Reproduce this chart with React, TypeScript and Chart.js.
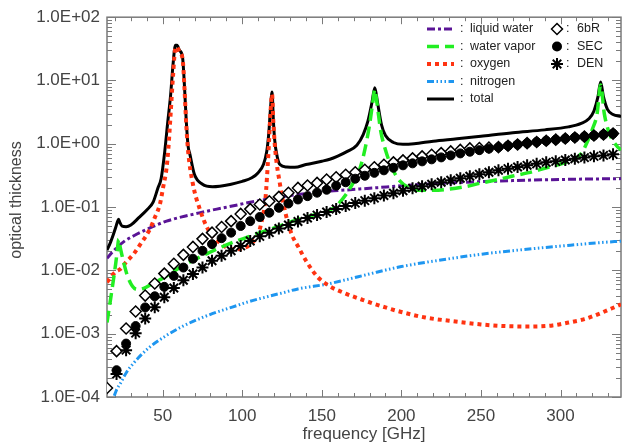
import React, { useEffect, useRef } from "react";
import { Chart, registerables } from "chart.js";

Chart.register(...registerables);

const FONT = '"Liberation Sans", Arial, Helvetica, sans-serif';
const AXIS_COLOR = "#7a7a7a";
const LABEL_COLOR = "#444444";

const xTickValues = [50, 100, 150, 200, 250, 300];
const yTickValues = [1e-4, 1e-3, 1e-2, 1e-1, 1, 10, 100];

const totalFreq = [15, 17, 19, 20.5, 21.5, 22.3, 23, 24.5, 27, 30, 35, 40, 44, 47, 49, 51.3, 53, 55, 56.5, 58, 59, 60.5, 62.5, 63.7, 64.8, 66, 67, 69.9, 75, 81.3, 93, 100, 106, 110, 113.3, 115.4, 116.7, 117.7, 118.75, 119.5, 120.3, 122, 123.7, 128, 133, 140, 150, 155, 160, 166, 172, 176, 179, 181.5, 183.3, 185, 187.5, 190, 195, 201, 208, 220, 235, 250, 270, 290, 305, 313, 318, 321, 323.5, 325.2, 327, 329.5, 333, 338];
const totalVals = [0.021, 0.027, 0.037, 0.048, 0.058, 0.064, 0.058, 0.05, 0.049, 0.052, 0.068, 0.09, 0.12, 0.2, 0.28, 0.76, 2.0, 6.0, 18, 36, 36, 30, 23, 8, 2.3, 0.9, 0.7, 0.33, 0.23, 0.21, 0.23, 0.255, 0.29, 0.35, 0.47, 0.76, 1.5, 3.5, 6.6, 2.5, 1.2, 0.62, 0.47, 0.43, 0.425, 0.47, 0.53, 0.57, 0.64, 0.76, 0.95, 1.4, 2.3, 4.5, 7.7, 4.5, 2.0, 1.35, 1.05, 0.98, 1.0, 1.1, 1.2, 1.32, 1.5, 1.66, 1.85, 2.1, 2.5, 3.3, 5.5, 9.5, 5.5, 3.5, 2.9, 2.7];

const oxygenFreq = [15, 18, 21, 23.4, 27, 31.6, 36, 42, 45, 48.2, 50.5, 52.4, 53.5, 55, 56.5, 58, 59, 60.5, 62.5, 63.7, 64.8, 66, 69, 73, 79, 86, 94, 101, 106, 110, 112.5, 114.5, 116.5, 117.7, 118.75, 119.5, 120.8, 123.7, 126, 128.8, 131.5, 135, 141, 147.5, 154, 165, 176, 190, 200, 215, 230, 250, 265, 280, 295, 305, 315, 325, 332, 338];
const oxygenVals = [0.0065, 0.0082, 0.0097, 0.0105, 0.0135, 0.018, 0.026, 0.045, 0.068, 0.11, 0.22, 0.41, 0.8, 3.0, 12, 33, 34, 28, 22, 7.4, 2.0, 0.75, 0.23, 0.098, 0.042, 0.027, 0.0215, 0.0225, 0.027, 0.037, 0.065, 0.13, 0.76, 3.0, 6.0, 2.3, 0.76, 0.23, 0.11, 0.055, 0.035, 0.024, 0.013, 0.0078, 0.0058, 0.0043, 0.0034, 0.0026, 0.0022, 0.0018, 0.0016, 0.0014, 0.00132, 0.0013, 0.00135, 0.0015, 0.0017, 0.0021, 0.0025, 0.0029];

const vaporFreq = [15, 17, 19, 20.5, 21.5, 22.3, 23, 24.5, 27.5, 31, 34, 38, 44, 50, 62.5, 79, 93.6, 104, 114.5, 125, 135, 145, 153.7, 160, 166, 170, 174, 177, 180, 182, 183.3, 184.6, 187, 190, 194, 199, 205, 210, 220, 228, 240, 250, 260, 270, 280, 290, 300, 308, 313, 317, 320, 323, 325.2, 327.5, 331, 335, 338];
const vaporVals = [0.0015, 0.0032, 0.007, 0.013, 0.021, 0.031, 0.025, 0.017, 0.0087, 0.0056, 0.005, 0.0052, 0.0063, 0.0075, 0.0118, 0.019, 0.0275, 0.034, 0.042, 0.052, 0.064, 0.075, 0.086, 0.11, 0.17, 0.25, 0.41, 0.8, 2.0, 4.5, 7.2, 4.5, 1.6, 0.8, 0.42, 0.26, 0.2, 0.185, 0.185, 0.19, 0.21, 0.24, 0.27, 0.31, 0.35, 0.41, 0.48, 0.56, 0.7, 1.1, 1.7, 3.0, 8.5, 3.0, 1.4, 0.95, 0.8];

const liquidFreq = [15, 18, 21.3, 26, 31.6, 42, 52.4, 62, 73, 84, 93.7, 104, 114.4, 125, 135, 153.7, 166, 185, 200, 228, 250, 270, 290, 310, 338];
const liquidVals = [0.0155, 0.019, 0.023, 0.029, 0.035, 0.047, 0.06, 0.07, 0.081, 0.093, 0.104, 0.118, 0.132, 0.146, 0.158, 0.178, 0.187, 0.203, 0.217, 0.24, 0.252, 0.262, 0.27, 0.276, 0.282];

const nitrogenFreq = [15, 17, 19.3, 21, 23.4, 27, 31.6, 36, 42, 52.4, 62, 73, 83, 93.7, 104, 114.4, 125, 135, 153.7, 166, 180, 200, 228, 250, 270, 290, 310, 325, 338];
const nitrogenVals = [0.00005, 0.00007, 0.0001, 0.00013, 0.000164, 0.00024, 0.00034, 0.00045, 0.00062, 0.00094, 0.00129, 0.00172, 0.00215, 0.00263, 0.0032, 0.00377, 0.0044, 0.0051, 0.0061, 0.0072, 0.0088, 0.0115, 0.015, 0.018, 0.0205, 0.023, 0.0255, 0.0275, 0.029];

const markerFreq = [15, 21, 27, 33, 39, 45, 51, 57, 63, 69, 75, 81, 87, 93, 99, 105, 111, 117, 123, 129, 135, 141, 147, 153, 159, 165, 171, 177, 183, 189, 195, 201, 207, 213, 219, 225, 231, 237, 243, 249, 255, 261, 267, 273, 279, 285, 291, 297, 303, 309, 315, 321, 327, 333];
const sixbrVals = [1.39e-4, 5.3e-4, 1.21e-3, 2.24e-3, 4.0e-3, 6.2e-3, 8.9e-3, 0.0127, 0.0176, 0.0235, 0.0315, 0.0395, 0.0485, 0.060, 0.078, 0.093, 0.110, 0.124, 0.145, 0.168, 0.201, 0.219, 0.241, 0.272, 0.296, 0.324, 0.355, 0.388, 0.425, 0.466, 0.509, 0.547, 0.589, 0.633, 0.673, 0.713, 0.758, 0.80, 0.845, 0.86, 0.875, 0.885, 0.931, 0.977, 1.024, 1.07, 1.116, 1.162, 1.21, 1.26, 1.30, 1.35, 1.40, 1.45];
const secVals = [null, 2.65e-4, 6.98e-4, 1.32e-3, 2.6e-3, 3.9e-3, 5.5e-3, 8.2e-3, 0.0111, 0.0153, 0.0204, 0.026, 0.0323, 0.0395, 0.0503, 0.060, 0.0697, 0.0815, 0.0976, 0.114, 0.132, 0.149, 0.169, 0.188, 0.218, 0.247, 0.281, 0.313, 0.348, 0.381, 0.418, 0.457, 0.491, 0.528, 0.568, 0.61, 0.656, 0.705, 0.75, 0.794, 0.839, 0.885, 0.931, 0.977, 1.024, 1.07, 1.116, 1.162, 1.21, 1.26, 1.30, 1.35, 1.40, 1.45];
const denVals = [null, 2.3e-4, 5.5e-4, 1.02e-3, 1.74e-3, 2.62e-3, 3.77e-3, 5.28e-3, 7.0e-3, 8.77e-3, 0.0111, 0.0142, 0.017, 0.0204, 0.0244, 0.0292, 0.0345, 0.0395, 0.0460, 0.0521, 0.0592, 0.0671, 0.0748, 0.0835, 0.0931, 0.1037, 0.1156, 0.1265, 0.1385, 0.152, 0.166, 0.1817, 0.199, 0.214, 0.230, 0.247, 0.266, 0.285, 0.307, 0.330, 0.355, 0.381, 0.405, 0.430, 0.457, 0.482, 0.509, 0.528, 0.554, 0.580, 0.605, 0.633, 0.656, 0.681];

const lineStyles = [
  { label: "liquid water", color: "#5a1496", dash: [8, 3, 3, 3], width: 3 },
  { label: "water vapor", color: "#22ee22", dash: [12, 6], width: 3.5 },
  { label: "oxygen", color: "#ff3311", dash: [4, 4], width: 4 },
  { label: "nitrogen", color: "#1e96f0", dash: [7, 2.5, 1.5, 2.5, 1.5, 2.5, 1.5, 2.5], width: 3 },
  { label: "total", color: "#000000", dash: [], width: 3 },
];
const markerLabels = ["6bR", "SEC", "DEN"];

function pts(xs: number[], ys: (number | null)[]) {
  return xs.map((x, i) => ({ x, y: ys[i] }));
}

function fmtExp(v: number) {
  const e = Math.round(Math.log10(v));
  return "1.0E" + (e < 0 ? "-" : "+") + String(Math.abs(e)).padStart(2, "0");
}

const framePlugin = {
  id: "frameTicks",
  beforeDatasetsDraw(chart: any) {
    const { ctx, chartArea, scales } = chart;
    const { left, right, top, bottom } = chartArea;
    const x = scales.x;
    const y = scales.y;
    ctx.save();
    ctx.strokeStyle = AXIS_COLOR;
    ctx.lineWidth = 1.5;
    ctx.strokeRect(left, top, right - left, bottom - top);
    ctx.lineWidth = 1;
    ctx.beginPath();
    for (let v = 20; v <= 330; v += 10) {
      const px = Math.round(x.getPixelForValue(v)) + 0.5;
      const len = v % 50 === 0 ? 7 : 4;
      ctx.moveTo(px, bottom);
      ctx.lineTo(px, bottom - len);
      ctx.moveTo(px, top);
      ctx.lineTo(px, top + len);
    }
    for (let e = -4; e <= 2; e++) {
      for (let m = 1; m <= 9; m++) {
        const v = m * Math.pow(10, e);
        if (v > 100.0001) break;
        const py = Math.round(y.getPixelForValue(v)) + 0.5;
        const len = m === 1 ? 9 : 5;
        ctx.moveTo(left, py);
        ctx.lineTo(left + len, py);
        ctx.moveTo(right, py);
        ctx.lineTo(right - len, py);
      }
    }
    ctx.stroke();
    ctx.fillStyle = LABEL_COLOR;
    ctx.font = "17px " + FONT;
    ctx.textAlign = "center";
    ctx.textBaseline = "middle";
    ctx.fillText("frequency [GHz]", (left + right) / 2, 434);
    ctx.translate(17, 200);
    ctx.rotate(-Math.PI / 2);
    ctx.font = "16px " + FONT;
    ctx.fillText("optical thickness", 0, 0);
    ctx.restore();
  },
  afterDraw(chart: any) {
    const { ctx } = chart;
    ctx.save();
    const rows = [29, 46.5, 64, 81.5, 99];
    ctx.font = "12.5px " + FONT;
    ctx.textBaseline = "middle";
    ctx.textAlign = "left";
    lineStyles.forEach((s, i) => {
      const yy = rows[i];
      ctx.strokeStyle = s.color;
      ctx.lineWidth = s.width;
      ctx.setLineDash(s.dash);
      ctx.beginPath();
      ctx.moveTo(427, yy);
      ctx.lineTo(454, yy);
      ctx.stroke();
      ctx.setLineDash([]);
      ctx.fillStyle = "#222";
      ctx.fillText(":", 460, yy);
      ctx.fillText(s.label, 470, yy);
    });
    const mx = 557;
    ctx.lineWidth = 1.5;
    ctx.strokeStyle = "#000";
    ctx.fillStyle = "#fff";
    ctx.beginPath();
    ctx.moveTo(mx - 5.5, rows[0]);
    ctx.lineTo(mx, rows[0] - 5.5);
    ctx.lineTo(mx + 5.5, rows[0]);
    ctx.lineTo(mx, rows[0] + 5.5);
    ctx.closePath();
    ctx.fill();
    ctx.stroke();
    ctx.fillStyle = "#000";
    ctx.beginPath();
    ctx.arc(mx, rows[1], 5, 0, Math.PI * 2);
    ctx.fill();
    ctx.lineWidth = 2;
    ctx.beginPath();
    const r = 6;
    const d = r * Math.SQRT1_2;
    ctx.moveTo(mx - r, rows[2]); ctx.lineTo(mx + r, rows[2]);
    ctx.moveTo(mx, rows[2] - r); ctx.lineTo(mx, rows[2] + r);
    ctx.moveTo(mx - d, rows[2] - d); ctx.lineTo(mx + d, rows[2] + d);
    ctx.moveTo(mx - d, rows[2] + d); ctx.lineTo(mx + d, rows[2] - d);
    ctx.stroke();
    ctx.fillStyle = "#222";
    markerLabels.forEach((t, i) => {
      ctx.fillText(":", 566, rows[i]);
      ctx.fillText(t, 577, rows[i]);
    });
    ctx.restore();
  },
};

export default function App() {
  const ref = useRef<HTMLCanvasElement | null>(null);
  useEffect(() => {
    if (!ref.current) return;
    const lineSets = [
      { data: pts(totalFreq, totalVals), s: lineStyles[4], order: 20 },
      { data: pts(nitrogenFreq, nitrogenVals), s: lineStyles[3], order: 19 },
      { data: pts(liquidFreq, liquidVals), s: lineStyles[0], order: 18 },
      { data: pts(oxygenFreq, oxygenVals), s: lineStyles[2], order: 17 },
      { data: pts(vaporFreq, vaporVals), s: lineStyles[1], order: 16 },
    ].map((d) => ({
      type: "line" as const,
      label: d.s.label,
      data: d.data,
      borderColor: d.s.color,
      borderWidth: d.s.width,
      borderDash: d.s.dash,
      borderCapStyle: "butt" as const,
      pointRadius: 0,
      fill: false,
      cubicInterpolationMode: "monotone" as const,
      order: d.order,
    }));
    const markerSets = [
      {
        type: "scatter" as const,
        label: "6bR",
        data: pts(markerFreq, sixbrVals),
        pointStyle: "rectRot",
        pointRadius: 5.5,
        pointBorderWidth: 1.5,
        pointBorderColor: "#000",
        pointBackgroundColor: "#fff",
        showLine: false,
        clip: 0,
        order: 5,
      },
      {
        type: "scatter" as const,
        label: "SEC",
        data: pts(markerFreq, secVals),
        pointStyle: "circle",
        pointRadius: 4.5,
        pointBorderWidth: 1,
        pointBorderColor: "#000",
        pointBackgroundColor: "#000",
        showLine: false,
        clip: 0,
        order: 4,
      },
      {
        type: "scatter" as const,
        label: "DEN",
        data: pts(markerFreq, denVals),
        pointStyle: "star",
        pointRadius: 6,
        pointBorderWidth: 2,
        pointBorderColor: "#000",
        pointBackgroundColor: "#000",
        showLine: false,
        clip: 0,
        order: 3,
      },
    ];
    const chart = new Chart(ref.current, {
      type: "line",
      data: { datasets: [...lineSets, ...markerSets] as any },
      plugins: [framePlugin],
      options: {
        animation: false,
        responsive: false,
        events: [],
        layout: { padding: { left: 0, top: 15, right: 1, bottom: 0 } },
        plugins: { legend: { display: false }, tooltip: { enabled: false } },
        scales: {
          x: {
            type: "linear",
            min: 15,
            max: 338,
            grid: { display: false, drawTicks: false },
            border: { display: false },
            afterBuildTicks: (scale: any) => {
              scale.ticks = xTickValues.map((v) => ({ value: v }));
            },
            afterFit: (scale: any) => {
              scale.height = 48;
            },
            ticks: {
              autoSkip: false,
              maxRotation: 0,
              padding: 9,
              color: LABEL_COLOR,
              font: { family: FONT, size: 17 },
            },
          },
          y: {
            type: "logarithmic",
            min: 1e-4,
            max: 100,
            grid: { display: false, drawTicks: false },
            border: { display: false },
            afterBuildTicks: (scale: any) => {
              scale.ticks = yTickValues.map((v) => ({ value: v }));
            },
            afterFit: (scale: any) => {
              scale.width = 107;
            },
            ticks: {
              autoSkip: false,
              padding: 7,
              color: LABEL_COLOR,
              font: { family: FONT, size: 17 },
              callback: (v: any) => fmtExp(Number(v)),
            },
          },
        },
      } as any,
    });
    return () => chart.destroy();
  }, []);
  return (
    <div style={{ position: "absolute", left: 0, top: 0, width: 629, height: 445, background: "#fff" }}>
      <canvas ref={ref} width={629} height={445} />
    </div>
  );
}
